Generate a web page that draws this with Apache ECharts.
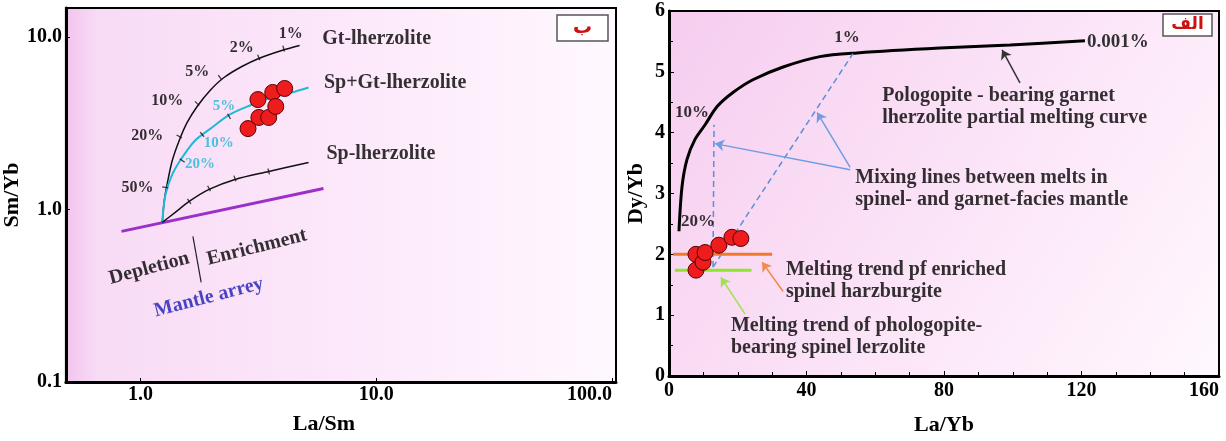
<!DOCTYPE html>
<html><head><meta charset="utf-8">
<script src="https://cdn.jsdelivr.net/npm/echarts@6/dist/echarts.min.js"></script>
<style>html,body{margin:0;padding:0;background:#fff}#c{width:1226px;height:441px}</style>
</head><body><div id="c"></div><script>
// ---------- LEFT PANEL: La/Sm vs Sm/Yb (log-log) ----------
const leftXTicks = [1, 10, 100];
const leftYTicks = [0.1, 1, 10];
const gtCurve = [[1.238,0.841],[1.263,1.128],[1.300,1.414],[1.365,1.921],[1.461,2.51],[1.579,3.19],[1.740,3.95],[1.974,4.89],[2.262,5.81],[2.694,6.73],[3.177,7.49],[3.973,8.33],[4.732,8.91]];
const spGtCurve = [[1.238,0.841],[1.275,1.205],[1.365,1.595],[1.504,2.0],[1.706,2.51],[2.013,2.985],[2.398,3.55],[2.912,4.0],[3.606,4.45],[4.378,4.76],[5.165,5.09]];
const spCurve = [[1.238,0.841],[1.405,0.961],[1.61,1.113],[1.955,1.306],[2.517,1.492],[3.5,1.66],[5.165,1.872]];
const mantleArray = [[0.831,0.746],[5.975,1.323]];
const leftSamples = [[2.86,2.94],[3.15,4.33],[3.18,3.41],[3.5,3.41],[3.64,4.76],[3.75,3.95],[4.09,5.02]];
const gtTicks = [[1.275,1.341],[1.461,2.647],[1.740,4.11],[2.176,5.81],[3.177,7.59],[4.05,8.55]];
const spGtTicks = [[1.504,1.921],[1.827,2.72],[2.375,3.46]];
const spTicks = [[1.61,1.113],[1.955,1.323],[2.517,1.512],[3.5,1.66]];
const gtPctLabels = ['1%','2%','5%','10%','20%','50%'];
const gtPctPos = [[4.34,10.45],[2.69,8.67],[1.74,6.30],[1.30,4.28],[1.07,2.68],[0.971,1.34]];
const spGtPctLabels = ['5%','10%','20%'];
const spGtPctPos = [[2.26,3.95],[2.15,2.41],[1.79,1.82]];
const leftCurveNames = ['Gt-lherzolite','Sp+Gt-lherzolite','Sp-lherzolite'];
const leftCurveNamePos = [[5.9,9.8],[6.0,5.4],[6.15,2.1]];
const dividerLine = [[1.67,0.698],[1.81,0.378]];
const leftNotes = ['Depletion','Enrichment','Mantle arrey'];
const leftNotePos = [[1.09,0.455],[3.12,0.603],[1.95,0.309]];

// ---------- RIGHT PANEL: La/Yb vs Dy/Yb ----------
const rightCurve = [[2.9,2.38],[3.78,3.11],[5.24,3.56],[7.56,3.89],[10.5,4.13],[14.0,4.43],[18.6,4.66],[24.4,4.87],[33.2,5.08],[43.9,5.25],[54.7,5.31],[78.8,5.39],[99.2,5.44],[121,5.51]];
const rightSamples = [[7.85,1.74],[7.85,2.0],[9.9,1.87],[10.5,2.03],[14.5,2.15],[18.3,2.28],[20.9,2.26]];
const orangeTrend = [[1.2,2.0],[30,2.0]];
const greenTrend = [[1.7,1.74],[24,1.74]];
const mixLineA = [[12.8,1.79],[13.1,4.13]];
const mixLineB = [[12.8,1.79],[53.5,5.30]];
const blackArrow = [[102.1,4.82],[96.9,5.36]];
const blueArrowA = [[52.7,3.39],[13.4,3.82]];
const blueArrowB = [[52.7,3.43],[43.1,4.33]];
const orangeArrow = [[33.2,1.39],[27.1,1.87]];
const greenArrow = [[22.1,1.02],[15.1,1.62]];
const rightPctLabels = ['10%','20%','1%','0.001%'];
const rightPctPos = [[6.7,4.33],[8.4,2.54],[51.8,5.56],[121.6,5.49]];
const rightNotes = ['Pologopite - bearing garnet\nlherzolite partial melting curve',
  'Mixing lines between melts in\nspinel- and garnet-facies mantle',
  'Melting trend pf enriched\nspinel harzburgite',
  'Melting trend of phologopite-\nbearing spinel lerzolite'];
const rightNotePos = [[62,4.43],[54.2,3.08],[34,1.566],[18,0.648]];

// ---------- helpers ----------
const FONT = '"Liberation Serif","Times New Roman",serif';
const lg = v => Math.log10(v);
const toLog = pts => pts.map(p => [lg(p[0]), lg(p[1])]);
const chart = echarts.init(document.getElementById('c'));

function textSeries(gi, items) {
  return {
    type: 'scatter', xAxisIndex: gi, yAxisIndex: gi, symbol: 'circle', symbolSize: 1, silent: true, z: 20,
    itemStyle: { color: 'rgba(0,0,0,0)' },
    data: items.map(it => ({
      value: it.p, name: it.t,
      label: Object.assign({ show: true, position: 'inside', formatter: '{b}', fontFamily: FONT, fontWeight: 'bold',
        fontSize: 20, color: '#000', align: 'center', verticalAlign: 'middle', lineHeight: 22 }, it.s || {})
    }))
  };
}
function tickSeries(pts, rots, color) {
  return { type: 'scatter', xAxisIndex: 0, yAxisIndex: 0, symbol: 'rect', symbolSize: [6, 1.3], silent: true, z: 6,
    itemStyle: { color: color },
    data: toLog(pts).map((p, i) => ({ value: p, symbolRotate: rots[i] })) };
}
function arrowData(seg, color) { return { coords: seg, lineStyle: { color: color } }; }
const txtStyle = { fontFamily: FONT, fontWeight: 'bold', fontSize: 20, color: '#000' };

const leftTextItems = []
  .concat(leftCurveNames.map((t, i) => ({ t, p: [lg(leftCurveNamePos[i][0]), lg(leftCurveNamePos[i][1])], s: { align: 'left' } })))
  .concat(gtPctLabels.map((t, i) => ({ t, p: [lg(gtPctPos[i][0]), lg(gtPctPos[i][1])], s: { fontSize: 16 } })))
  .concat(spGtPctLabels.map((t, i) => ({ t, p: [lg(spGtPctPos[i][0]), lg(spGtPctPos[i][1])], s: { fontSize: 15, color: '#1fb9d6' } })))
  .concat([
    { t: leftNotes[0], p: [lg(leftNotePos[0][0]), lg(leftNotePos[0][1])], s: { rotate: 15 } },
    { t: leftNotes[1], p: [lg(leftNotePos[1][0]), lg(leftNotePos[1][1])], s: { rotate: 14 } },
    { t: leftNotes[2], p: [lg(leftNotePos[2][0]), lg(leftNotePos[2][1])], s: { rotate: 14.5, color: '#1c1cb8' } }
  ]);

const rightTextItems = []
  .concat(rightPctLabels.map((t, i) => ({ t, p: rightPctPos[i], s: i === 3 ? { fontSize: 19, align: 'left' } : { fontSize: 17 } })))
  .concat(rightNotes.map((t, i) => ({ t, p: rightNotePos[i], s: { align: 'left' } })));

const leftBg = new echarts.graphic.LinearGradient(0, 0, 1, 0, [
  { offset: 0, color: '#f2c4ee' }, { offset: 0.06, color: '#f8dbf5' }, { offset: 0.5, color: '#fce8fa' }, { offset: 1, color: '#fff8ff' }]);
const rightBg = new echarts.graphic.LinearGradient(0, 0, 1, 1, [
  { offset: 0, color: '#f6cdef' }, { offset: 0.5, color: '#fbe3f7' }, { offset: 1, color: '#fff8fe' }]);

const option = {
  animation: false,
  backgroundColor: '#ffffff',
  grid: [
    { left: 63, top: 8, width: 553, height: 374, show: true, backgroundColor: leftBg, borderColor: '#000', borderWidth: 2 },
    { left: 669, top: 11, width: 550, height: 366, show: true, backgroundColor: rightBg, borderColor: '#000', borderWidth: 2 }
  ],
  xAxis: [
    { gridIndex: 0, type: 'value', min: -0.316, max: 2.017,
      name: 'La/Sm', nameLocation: 'middle', nameGap: 31, nameTextStyle: Object.assign({}, txtStyle, { fontSize: 22, padding: [0, 34, 0, 0] }),
      axisLine: { show: true, onZero: false, lineStyle: { color: '#000', width: 3 } },
      axisTick: { show: true, inside: true, length: 4, customValues: leftXTicks.map(lg), lineStyle: { color: '#000' } },
      axisLabel: Object.assign({ customValues: leftXTicks.map(lg), formatter: v => Math.pow(10, v).toFixed(1), margin: 3, alignMaxLabel: 'right' }, txtStyle),
      splitLine: { show: false } },
    { gridIndex: 1, type: 'value', min: 0, max: 160, interval: 40,
      name: 'La/Yb', nameLocation: 'middle', nameGap: 38, nameTextStyle: Object.assign({}, txtStyle, { fontSize: 22 }),
      axisLine: { show: true, onZero: false, lineStyle: { color: '#000', width: 3 } },
      axisTick: { show: true, inside: true, length: 5, lineStyle: { color: '#000' } },
      minorTick: { show: true, splitNumber: 4, length: 4, lineStyle: { color: '#000' } },
      axisLabel: Object.assign({ margin: 5, alignMaxLabel: 'right' }, txtStyle),
      splitLine: { show: false }, minorSplitLine: { show: false } }
  ],
  yAxis: [
    { gridIndex: 0, type: 'value', min: -1, max: 1.167,
      name: 'Sm/Yb', nameLocation: 'middle', nameGap: 29, nameRotate: 90, nameTextStyle: Object.assign({}, txtStyle, { fontSize: 22 }),
      axisLine: { show: true, onZero: false, lineStyle: { color: '#000', width: 3 } },
      axisTick: { show: true, inside: true, length: 4, customValues: leftYTicks.map(lg), lineStyle: { color: '#000' } },
      axisLabel: Object.assign({ customValues: leftYTicks.map(lg), formatter: v => Math.pow(10, v).toFixed(1), margin: 4 }, txtStyle),
      splitLine: { show: false } },
    { gridIndex: 1, type: 'value', min: 0, max: 6, interval: 1,
      name: 'Dy/Yb', nameLocation: 'middle', nameGap: 22, nameRotate: 90, nameTextStyle: Object.assign({}, txtStyle, { fontSize: 22 }),
      axisLine: { show: true, onZero: false, lineStyle: { color: '#000', width: 3 } },
      axisTick: { show: true, inside: true, length: 5, lineStyle: { color: '#000' } },
      minorTick: { show: true, splitNumber: 2, length: 4, lineStyle: { color: '#000' } },
      axisLabel: Object.assign({ margin: 4 }, txtStyle),
      splitLine: { show: false }, minorSplitLine: { show: false } }
  ],
  graphic: [
    { type: 'rect', shape: { x: 557, y: 15, width: 51, height: 26 }, style: { fill: '#fff', stroke: '#555', lineWidth: 1.5 }, z: 100 },
    { type: 'text', x: 582.5, y: 28, style: { text: 'ب', fill: '#cc1111', fontSize: 19, fontWeight: 'bold', fontFamily: '"DejaVu Sans"', align: 'center', verticalAlign: 'middle' }, z: 101 },
    { type: 'rect', shape: { x: 1163, y: 14, width: 49, height: 22 }, style: { fill: '#fff', stroke: '#555', lineWidth: 1.5 }, z: 100 },
    { type: 'text', x: 1187.5, y: 25, style: { text: 'الف', fill: '#cc1111', fontSize: 17, fontWeight: 'bold', fontFamily: '"DejaVu Sans"', align: 'center', verticalAlign: 'middle' }, z: 101 }
  ],
  series: [
    // left panel
    { type: 'line', xAxisIndex: 0, yAxisIndex: 0, data: toLog(mantleArray), symbol: 'none', lineStyle: { color: '#9b30c8', width: 3 }, z: 3 },
    { type: 'line', xAxisIndex: 0, yAxisIndex: 0, data: toLog(gtCurve), symbol: 'none', smooth: 0.3, lineStyle: { color: '#111', width: 1.5 }, z: 4 },
    { type: 'line', xAxisIndex: 0, yAxisIndex: 0, data: toLog(spGtCurve), symbol: 'none', smooth: 0.3, lineStyle: { color: '#1fb9d6', width: 2 }, z: 4 },
    { type: 'line', xAxisIndex: 0, yAxisIndex: 0, data: toLog(spCurve), symbol: 'none', smooth: 0.3, lineStyle: { color: '#111', width: 1.5 }, z: 4 },
    { type: 'line', xAxisIndex: 0, yAxisIndex: 0, data: toLog(dividerLine), symbol: 'none', lineStyle: { color: '#222', width: 1.2 }, z: 4 },
    tickSeries(gtTicks, [170, 152, 135, 125, 112, 105], '#111'),
    tickSeries(spGtTicks, [145, 130, 120], '#111'),
    tickSeries(spTicks, [125, 118, 110, 105], '#111'),
    { type: 'scatter', xAxisIndex: 0, yAxisIndex: 0, data: toLog(leftSamples), symbolSize: 16, z: 10,
      itemStyle: { color: '#ee1c1c', borderColor: '#5a0000', borderWidth: 1, opacity: 1 } },
    textSeries(0, leftTextItems),
    // right panel
    { type: 'line', xAxisIndex: 1, yAxisIndex: 1, data: rightCurve, symbol: 'none', smooth: 0.3, lineStyle: { color: '#000', width: 3 }, z: 4 },
    { type: 'line', xAxisIndex: 1, yAxisIndex: 1, data: mixLineA, symbol: 'none', lineStyle: { color: '#5b8ed6', width: 1.5, type: [6, 4] }, z: 4 },
    { type: 'line', xAxisIndex: 1, yAxisIndex: 1, data: mixLineB, symbol: 'none', lineStyle: { color: '#5b8ed6', width: 1.5, type: [6, 4] }, z: 4 },
    { type: 'line', xAxisIndex: 1, yAxisIndex: 1, data: orangeTrend, symbol: 'none', lineStyle: { color: '#f07a2a', width: 3 }, z: 5 },
    { type: 'line', xAxisIndex: 1, yAxisIndex: 1, data: greenTrend, symbol: 'none', lineStyle: { color: '#8fe52c', width: 3 }, z: 5 },
    { type: 'lines', coordinateSystem: 'cartesian2d', xAxisIndex: 1, yAxisIndex: 1, symbol: ['none', 'arrow'], symbolSize: 9, z: 6,
      lineStyle: { width: 1.5, opacity: 1 },
      data: [arrowData(blackArrow, '#333'), arrowData(blueArrowA, '#6e9de0'), arrowData(blueArrowB, '#6e9de0'),
             arrowData(orangeArrow, '#f08a4a'), arrowData(greenArrow, '#9be34a')] },
    { type: 'scatter', xAxisIndex: 1, yAxisIndex: 1, data: rightSamples, symbolSize: 16, z: 10,
      itemStyle: { color: '#ee1c1c', borderColor: '#5a0000', borderWidth: 1, opacity: 1 } },
    textSeries(1, rightTextItems)
  ]
};
chart.setOption(option);
</script></body></html>
